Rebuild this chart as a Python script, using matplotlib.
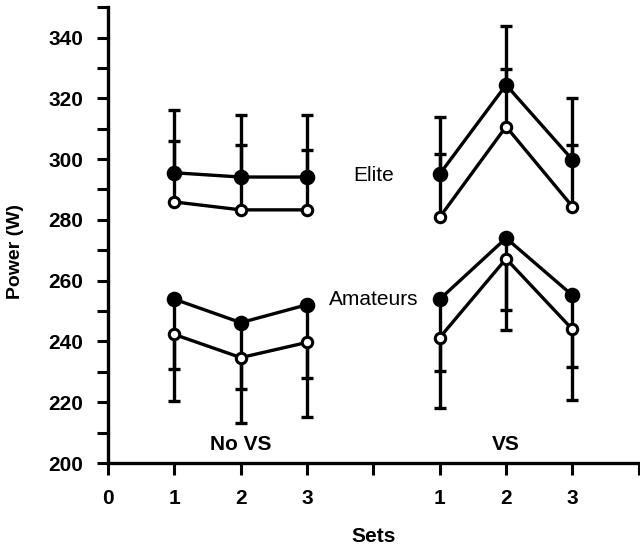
import matplotlib.pyplot as plt
import numpy as np

plt.rcParams['font.family'] = ['Liberation Sans', 'DejaVu Sans']

# set positions on the x axis (No VS: 1-3, VS: 1-3 shifted right)
x_novs = [1, 2, 3]
x_vs = [5, 6, 7]

# Elite (filled = first, open = second), upward SD only
elite_novs_f = [295.5, 294.1, 294.1]
elite_novs_f_sd = [20.6, 20.4, 20.4]
elite_novs_o = [285.9, 283.3, 283.3]
elite_novs_o_sd = [20.1, 21.4, 19.7]
elite_vs_f = [295.1, 324.4, 299.8]
elite_vs_f_sd = [18.6, 19.5, 20.4]
elite_vs_o = [280.9, 310.7, 284.4]
elite_vs_o_sd = [20.7, 18.8, 20.2]

# Amateurs, downward SD only
am_novs_f = [253.9, 246.2, 252.1]
am_novs_f_sd = [23.0, 21.8, 24.2]
am_novs_o = [242.3, 234.7, 239.7]
am_novs_o_sd = [21.9, 21.4, 24.7]
am_vs_f = [253.9, 274.0, 255.2]
am_vs_f_sd = [23.5, 23.5, 23.7]
am_vs_o = [241.3, 267.2, 244.0]
am_vs_o_sd = [23.3, 23.5, 23.3]

xticks = [0, 1, 2, 3, 4, 5, 6, 7, 8]
xticklabels = ['0', '1', '2', '3', '', '1', '2', '3', '']

fig = plt.figure(figsize=(6.4, 5.48), dpi=100)
ax = fig.add_axes([0.169, 0.155, 0.829, 0.832])

lw = 2.4


def series(x, y, sd, up, filled):
    z = np.zeros(len(sd))
    yerr = [z, sd] if up else [sd, z]
    ax.errorbar(x, y, yerr=yerr, fmt='none', ecolor='black', elinewidth=lw,
                capsize=4, capthick=lw, zorder=2)
    ax.plot(x, y, color='black', lw=lw, marker='o',
            markersize=9 if filled else 7.5,
            markerfacecolor='black' if filled else 'white',
            markeredgecolor='black', markeredgewidth=2.2, zorder=3)


for x, f, fsd, o, osd in [(x_novs, elite_novs_f, elite_novs_f_sd, elite_novs_o, elite_novs_o_sd),
                          (x_vs, elite_vs_f, elite_vs_f_sd, elite_vs_o, elite_vs_o_sd)]:
    series(x, o, osd, True, False)
    series(x, f, fsd, True, True)

for x, f, fsd, o, osd in [(x_novs, am_novs_f, am_novs_f_sd, am_novs_o, am_novs_o_sd),
                          (x_vs, am_vs_f, am_vs_f_sd, am_vs_o, am_vs_o_sd)]:
    series(x, f, fsd, False, True)
    series(x, o, osd, False, False)

ax.text(4, 294.5, 'Elite', ha='center', va='center', fontsize=15)
ax.text(4, 253.8, 'Amateurs', ha='center', va='center', fontsize=15)
ax.text(2, 206.0, 'No VS', ha='center', va='center', fontsize=15, fontweight='bold')
ax.text(6, 206.0, 'VS', ha='center', va='center', fontsize=15, fontweight='bold')

ax.set_xlim(0, 8)
ax.set_ylim(200, 350)
ax.set_xticks(xticks)
ax.set_xticklabels(xticklabels, fontsize=15, fontweight='bold')
ax.set_yticks(np.arange(200, 341, 20))
ax.set_yticks(np.arange(210, 351, 20), minor=True)
ax.set_yticklabels([str(v) for v in range(200, 341, 20)], fontsize=15, fontweight='bold')

for s in ['top', 'right']:
    ax.spines[s].set_visible(False)
for s in ['left', 'bottom']:
    ax.spines[s].set_linewidth(2.4)
ax.tick_params(axis='y', which='both', length=8, width=2.2, pad=10)
ax.tick_params(axis='x', length=8.5, width=2.2, pad=10)

ax.set_xlabel('Sets', fontsize=15, fontweight='bold', labelpad=14)
ax.set_ylabel('Power (W)', fontsize=14, fontweight='bold')
ax.yaxis.set_label_coords(-0.158, 0.463)

fig.savefig('out.png', dpi=100)
